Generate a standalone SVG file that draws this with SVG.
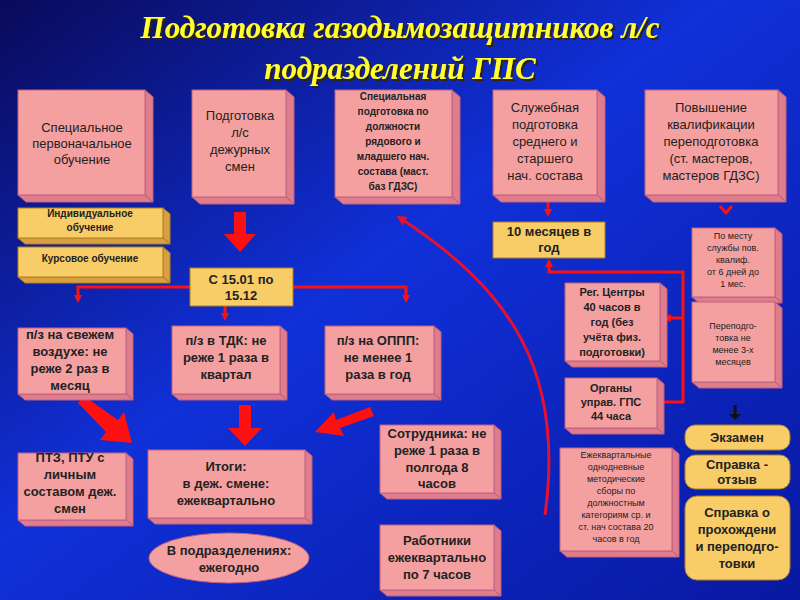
<svg xmlns="http://www.w3.org/2000/svg" width="800" height="600" viewBox="0 0 800 600">
<defs>
<linearGradient id="bg" x1="0" y1="0" x2="1" y2="1"><stop offset="0" stop-color="#0a0a5a"/><stop offset="0.45" stop-color="#1030d8"/><stop offset="1" stop-color="#0818a0"/></linearGradient>
<filter id="sh" x="-5%" y="-20%" width="110%" height="140%"><feDropShadow dx="2" dy="2" stdDeviation="0.5" flood-color="#302000"/></filter>
<marker id="ah" markerWidth="8" markerHeight="8" refX="5" refY="4" orient="auto" markerUnits="userSpaceOnUse"><path d="M0,0 L8,4 L0,8 Z" fill="#ff1010"/></marker>
<marker id="ahb" markerWidth="10" markerHeight="10" refX="6" refY="5" orient="auto" markerUnits="userSpaceOnUse"><path d="M0,0 L10,5 L0,10 Z" fill="#e81030"/></marker>
</defs>
<style>
.f{fill:#f4a0a0;stroke:#c06080;stroke-width:1}
.s{fill:#e07d8c;stroke:#c06080;stroke-width:1}
.y{fill:#f8cc66;stroke:#b08020;stroke-width:1}
.ys{fill:#d8a040;stroke:#b08020;stroke-width:1}
text{font-family:"Liberation Sans",Arial,sans-serif;font-size:13px;fill:#222;text-anchor:middle}
.b{font-weight:bold}
.sm{font-size:10px}
.ttl{font-family:"Liberation Serif",serif;font-size:31px;font-weight:bold;font-style:italic;fill:#ffff30}
.ln{stroke:#ff1010;stroke-width:3;fill:none}
.big{fill:#ff1010}
</style>
<rect width="800" height="600" fill="url(#bg)"/>
<g filter="url(#sh)">
<text class="ttl" x="400" y="38">Подготовка газодымозащитников л/с</text>
<text class="ttl" x="400" y="79">подразделений ГПС</text>
</g>

<g id="connectors">
<polyline class="ln" points="190,287 78,287 78,300" marker-end="url(#ah)"/>
<polyline class="ln" points="293,287 406,287 406,300" marker-end="url(#ah)"/>
<line class="ln" x1="225" y1="306" x2="225" y2="318" marker-end="url(#ah)"/>
<polygon class="big" points="234,212 246,212 246,234 256,234 240,252 224,234 234,234"/>
<polygon class="big" points="78,403 84,396 118,420 124,412 132,443 100,440 106,432"/>
<polygon class="big" points="239,405 251,405 251,428 262,428 245,446 228,428 239,428"/>
<polygon class="big" points="370,407 374,416 340,428 344,436 315,432 334,412 336,420"/>
<polyline class="ln" points="680,272 549,272 549,262" marker-end="url(#ah)"/>
<polyline class="ln" points="680,272 683,272 683,402 660,402"/>
<line class="ln" x1="683" y1="318" x2="666" y2="318" marker-end="url(#ah)"/>
<path d="M545,515 C565,370 510,290 400,218" stroke="#e81030" stroke-width="3" fill="none" marker-end="url(#ahb)"/>
<line class="ln" x1="548" y1="200" x2="548" y2="214" marker-end="url(#ah)"/>
<polyline class="ln" points="720,206 726,213 732,206"/>
<line x1="735" y1="405" x2="735" y2="416" stroke="#111" stroke-width="3"/><path d="M729,414 L741,414 L735,420 Z" fill="#111"/>
</g>

<g id="n1"><polygon class="s" points="145,90 153,97 153,202 145,195"/><polygon class="s" points="18,195 145,195 153,202 26,202"/><rect class="f" x="18" y="90" width="127" height="105"/>
<text x="82" y="132">Специальное</text><text x="82" y="148">первоначальное</text><text x="82" y="164">обучение</text></g>
<g id="n2"><polygon class="s" points="286,90 294,97 294,204 286,197"/><polygon class="s" points="192,197 286,197 294,204 200,204"/><rect class="f" x="192" y="90" width="94" height="107"/>
<text x="240" y="120">Подготовка</text><text x="240" y="137">л/с</text><text x="240" y="154">дежурных</text><text x="240" y="171">смен</text></g>
<g id="n3"><polygon class="s" points="452,90 460,97 460,204 452,197"/><polygon class="s" points="335,197 452,197 460,204 343,204"/><rect class="f" x="335" y="90" width="117" height="107"/>
<text class="b sm" x="393" y="100">Специальная</text><text class="b sm" x="393" y="115">подготовка по</text><text class="b sm" x="393" y="130">должности</text><text class="b sm" x="393" y="145">рядового и</text><text class="b sm" x="393" y="160">младшего нач.</text><text class="b sm" x="393" y="175">состава (маст.</text><text class="b sm" x="393" y="190">баз ГДЗС)</text></g>
<g id="n4"><polygon class="s" points="597,90 605,97 605,202 597,195"/><polygon class="s" points="493,195 597,195 605,202 501,202"/><rect class="f" x="493" y="90" width="104" height="105"/>
<text x="545" y="112">Служебная</text><text x="545" y="129">подготовка</text><text x="545" y="146">среднего и</text><text x="545" y="163">старшего</text><text x="545" y="180">нач. состава</text></g>
<g id="n5"><polygon class="s" points="778,90 786,97 786,202 778,195"/><polygon class="s" points="645,195 778,195 786,202 653,202"/><rect class="f" x="645" y="90" width="133" height="105"/>
<text x="711" y="112">Повышение</text><text x="711" y="129">квалификации</text><text x="711" y="146">переподготовка</text><text x="711" y="163">(ст. мастеров,</text><text x="711" y="180">мастеров ГДЗС)</text></g>

<g id="n6"><polygon class="ys" points="163,208 170,214 170,244 163,238"/><polygon class="ys" points="18,238 163,238 170,244 25,244"/><rect class="y" x="18" y="208" width="145" height="30"/>
<text class="b sm" x="90" y="217">Индивидуальное</text><text class="b sm" x="90" y="231">обучение</text></g>
<g id="n7"><polygon class="ys" points="163,247 170,253 170,283 163,277"/><polygon class="ys" points="18,277 163,277 170,283 25,283"/><rect class="y" x="18" y="247" width="145" height="30"/>
<text class="b sm" x="90" y="262">Курсовое обучение</text></g>
<g id="n8"><rect class="y" x="190" y="268" width="103" height="38"/>
<text class="b" x="241" y="284">С 15.01 по</text><text class="b" x="241" y="300">15.12</text></g>
<g id="n9"><rect class="y" x="493" y="222" width="112" height="36"/>
<text class="b" x="549" y="236">10 месяцев в</text><text class="b" x="549" y="252">год</text></g>

<g id="n10"><polygon class="s" points="126,328 133,334 133,400 126,394"/><polygon class="s" points="18,394 126,394 133,400 25,400"/><rect class="f" x="18" y="328" width="108" height="66"/>
<text class="b" x="70" y="339">п/з на свежем</text><text class="b" x="70" y="356">воздухе: не</text><text class="b" x="70" y="373">реже 2 раз в</text><text class="b" x="70" y="390">месяц</text></g>
<g id="n11"><polygon class="s" points="280,326 287,332 287,400 280,394"/><polygon class="s" points="172,394 280,394 287,400 179,400"/><rect class="f" x="172" y="326" width="108" height="68"/>
<text class="b" x="226" y="345">п/з в ТДК: не</text><text class="b" x="226" y="362">реже 1 раза в</text><text class="b" x="226" y="379">квартал</text></g>
<g id="n12"><polygon class="s" points="434,326 441,332 441,400 434,394"/><polygon class="s" points="325,394 434,394 441,400 332,400"/><rect class="f" x="325" y="326" width="109" height="68"/>
<text class="b" x="378" y="345">п/з на ОППП:</text><text class="b" x="378" y="362">не менее 1</text><text class="b" x="378" y="379">раза в год</text></g>

<g id="n13"><polygon class="s" points="126,453 133,459 133,526 126,520"/><polygon class="s" points="18,520 126,520 133,526 25,526"/><rect class="f" x="18" y="453" width="108" height="67"/>
<text class="b" x="70" y="462">ПТЗ, ПТУ с</text><text class="b" x="70" y="479">личным</text><text class="b" x="70" y="496">составом деж.</text><text class="b" x="70" y="513">смен</text></g>
<g id="n14"><polygon class="s" points="305,450 312,456 312,524 305,518"/><polygon class="s" points="148,518 305,518 312,524 155,524"/><rect class="f" x="148" y="450" width="157" height="68"/>
<text class="b" x="226" y="471">Итоги:</text><text class="b" x="226" y="488">в деж. смене:</text><text class="b" x="226" y="505">ежеквартально</text></g>
<g id="n15"><ellipse cx="229" cy="558" rx="80" ry="25" fill="#f4a0a0" stroke="#c06080"/>
<text class="b" x="229" y="555">В подразделениях:</text><text class="b" x="229" y="572">ежегодно</text></g>
<g id="n16"><polygon class="s" points="494,425 501,431 501,499 494,493"/><polygon class="s" points="380,493 494,493 501,499 387,499"/><rect class="f" x="380" y="425" width="114" height="68"/>
<text class="b" x="437" y="438">Сотрудника: не</text><text class="b" x="437" y="455">реже 1 раза в</text><text class="b" x="437" y="472">полгода 8</text><text class="b" x="437" y="488">часов</text></g>
<g id="n17"><polygon class="s" points="494,525 501,531 501,596 494,590"/><polygon class="s" points="380,590 494,590 501,596 387,596"/><rect class="f" x="380" y="525" width="114" height="65"/>
<text class="b" x="437" y="545">Работники</text><text class="b" x="437" y="562">ежеквартально</text><text class="b" x="437" y="579">по 7 часов</text></g>

<g id="n18"><polygon class="s" points="660,283 667,289 667,367 660,361"/><polygon class="s" points="565,361 660,361 667,367 572,367"/><rect class="f" x="565" y="283" width="95" height="78"/>
<text class="b" style="font-size:11px" x="612" y="296">Рег. Центры</text><text class="b" style="font-size:11px" x="612" y="311">40 часов в</text><text class="b" style="font-size:11px" x="612" y="326">год (без</text><text class="b" style="font-size:11px" x="612" y="341">учёта физ.</text><text class="b" style="font-size:11px" x="612" y="356">подготовки)</text></g>
<g id="n19"><polygon class="s" points="657,378 664,384 664,434 657,428"/><polygon class="s" points="565,428 657,428 664,434 572,434"/><rect class="f" x="565" y="378" width="92" height="50"/>
<text class="b" style="font-size:11px" x="611" y="392">Органы</text><text class="b" style="font-size:11px" x="611" y="406">управ. ГПС</text><text class="b" style="font-size:11px" x="611" y="420">44 часа</text></g>
<g id="n20"><polygon class="s" points="672,448 679,454 679,557 672,551"/><polygon class="s" points="560,551 672,551 679,557 567,557"/><rect class="f" x="560" y="448" width="112" height="103"/>
<text style="font-size:9px" x="616" y="458">Ежеквартальные</text><text style="font-size:9px" x="616" y="470">однодневные</text><text style="font-size:9px" x="616" y="482">методические</text><text style="font-size:9px" x="616" y="494">сборы по</text><text style="font-size:9px" x="616" y="506">должностным</text><text style="font-size:9px" x="616" y="518">категориям ср. и</text><text style="font-size:9px" x="616" y="530">ст. нач состава 20</text><text style="font-size:9px" x="616" y="542">часов в год</text></g>
<g id="n21"><polygon class="s" points="775,228 782,234 782,303 775,297"/><polygon class="s" points="692,297 775,297 782,303 699,303"/><rect class="f" x="692" y="228" width="83" height="69"/>
<text style="font-size:9px" x="733" y="239">По месту</text><text style="font-size:9px" x="733" y="251">службы пов.</text><text style="font-size:9px" x="733" y="263">квалиф.</text><text style="font-size:9px" x="733" y="275">от 6 дней до</text><text style="font-size:9px" x="733" y="287">1 мес.</text></g>
<g id="n22"><polygon class="s" points="775,302 782,308 782,388 775,382"/><polygon class="s" points="692,382 775,382 782,388 699,388"/><rect class="f" x="692" y="302" width="83" height="80"/>
<text style="font-size:9px" x="733" y="329">Переподго-</text><text style="font-size:9px" x="733" y="341">товка не</text><text style="font-size:9px" x="733" y="353">менее 3-х</text><text style="font-size:9px" x="733" y="365">месяцев</text></g>
<g id="n23"><rect class="y" x="685" y="425" width="105" height="25" rx="10"/><text class="b" x="737" y="442">Экзамен</text></g>
<g id="n24"><rect class="y" x="685" y="455" width="105" height="34" rx="10"/><text class="b" x="737" y="469">Справка -</text><text class="b" x="737" y="484">отзыв</text></g>
<g id="n25"><rect class="y" x="685" y="496" width="105" height="84" rx="12"/><text class="b" x="737" y="517">Справка о</text><text class="b" x="737" y="534">прохождени</text><text class="b" x="737" y="551">и переподго-</text><text class="b" x="737" y="568">товки</text></g>
</svg>
